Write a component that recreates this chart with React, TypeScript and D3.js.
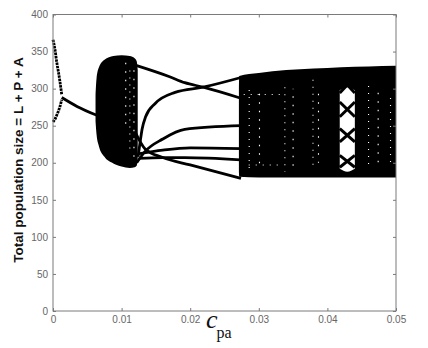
import { useEffect, useRef } from 'react';
import * as d3 from 'd3';

// axis ticks
const xTickValues = [0, 0.01, 0.02, 0.03, 0.04, 0.05];
const xTickLabels = ['0', '0.01', '0.02', '0.03', '0.04', '0.05'];
const yTickValues = [0, 50, 100, 150, 200, 250, 300, 350, 400];

// period-2 branches near cpa = 0
const twoCycleCpa = [0, 0.0003, 0.00054, 0.0008, 0.00102, 0.00127];
const twoCycleUpper = [366, 352, 336, 322, 309, 292];
const twoCycleLower = [255, 259, 264, 270, 276, 285];

// fixed point after the merge
const fixedCpa = [0.00127, 0.0035, 0.0064];
const fixedSize = [288, 276, 264];

// first chaotic band
const band1Cpa = [0.0062, 0.00635, 0.0067, 0.0075, 0.0088, 0.01, 0.0112, 0.0119, 0.0122, 0.01235];
const band1Top = [290, 314, 329, 339, 344, 345, 344, 341, 337, 325];
const band1Bottom = [256, 238, 222, 208, 199, 195, 193, 194, 196, 206];

// periodic branches between the bands
const branchACpa = [0.0122, 0.017, 0.0192, 0.0219, 0.0274];
const branchASize = [331, 316, 308, 302, 287];
const branchBCpa = [0.0124, 0.0127, 0.013, 0.0135, 0.0149, 0.0178, 0.0219, 0.0274];
const branchBSize = [208, 228, 246, 262, 280, 295, 302, 315];
const branchCCpa = [0.012, 0.0134, 0.016, 0.02, 0.0274];
const branchCSize = [241, 219, 207, 197, 179];
const branchDCpa = [0.0122, 0.0134, 0.016, 0.0192, 0.0274];
const branchDSize = [200, 215, 232, 245, 250];
const branchECpa = [0.0124, 0.016, 0.02, 0.0274];
const branchESize = [212, 217, 220, 219];
const branchFCpa = [0.0125, 0.016, 0.0192, 0.0274];
const branchFSize = [206, 207, 207, 204];

// second chaotic band
const band2Cpa = [0.0271, 0.02715, 0.03, 0.034, 0.038, 0.042, 0.046, 0.05];
const band2Top = [300, 317, 321, 325, 327, 329, 330, 331];
const band2Bottom = [188, 181, 180, 180, 180, 180, 180, 180];

// periodic window inside the second band
const windowCpa = [0.0418, 0.0429, 0.044];
const windowTop = [298, 302, 298];
const windowBottom = [192, 188, 192];
const windowLineFrom = [316, 294, 282, 262, 246, 228, 210, 194];
const windowLineTo = [294, 316, 262, 282, 228, 246, 194, 210];

// white speckle streaks inside the bands
const speckleCpa = [0.0106, 0.0112, 0.0118, 0.0286, 0.0301, 0.0338, 0.035, 0.0379, 0.0387, 0.046, 0.0474, 0.0492];
const speckleTop = [335, 330, 328, 305, 300, 310, 300, 312, 295, 305, 300, 290];
const speckleBottom = [250, 215, 205, 190, 195, 188, 190, 190, 200, 192, 195, 195];
const speckleRowSize = [292, 197];
const speckleRowCpa = [0.0278, 0.0332];

export default function App() {
  const svgRef = useRef<SVGSVGElement>(null);

  useEffect(() => {
    const svg = d3.select(svgRef.current);
    svg.selectAll('*').remove();

    const xScale = d3.scaleLinear().domain([0, 0.05]).range([53, 396]);
    const yScale = d3.scaleLinear().domain([0, 400]).range([311, 14.5]);

    const lineOf = (cpa: number[], size: number[]) =>
      d3
        .line<number>()
        .x((_, i) => xScale(cpa[i]))
        .y((d) => yScale(d))
        .curve(d3.curveMonotoneX)(size);

    const areaOf = (cpa: number[], top: number[], bottom: number[]) =>
      d3
        .area<number>()
        .x((_, i) => xScale(cpa[i]))
        .y0((_, i) => yScale(bottom[i]))
        .y1((d) => yScale(d))
        .curve(d3.curveMonotoneX)(top);

    const plot = svg.append('g');

    // bands
    plot.append('path').attr('d', areaOf(band1Cpa, band1Top, band1Bottom)).attr('fill', '#000');
    plot.append('path').attr('d', areaOf(band2Cpa, band2Top, band2Bottom)).attr('fill', '#000');

    // speckles
    speckleCpa.forEach((c, i) => {
      plot
        .append('line')
        .attr('x1', xScale(c))
        .attr('x2', xScale(c))
        .attr('y1', yScale(speckleTop[i]))
        .attr('y2', yScale(speckleBottom[i]))
        .attr('stroke', '#fff')
        .attr('stroke-width', 1.1)
        .attr('stroke-dasharray', i % 2 ? '1 6' : '1.5 7')
        .attr('stroke-dashoffset', i * 3);
    });
    speckleRowSize.forEach((s, i) => {
      plot
        .append('line')
        .attr('x1', xScale(speckleRowCpa[0]))
        .attr('x2', xScale(speckleRowCpa[1]))
        .attr('y1', yScale(s))
        .attr('y2', yScale(s))
        .attr('stroke', '#fff')
        .attr('stroke-width', 1.1)
        .attr('stroke-dasharray', '1 6')
        .attr('stroke-dashoffset', i * 2);
    });

    // periodic window
    plot.append('path').attr('d', areaOf(windowCpa, windowTop, windowBottom)).attr('fill', '#fff');
    windowLineFrom.forEach((from, i) => {
      plot
        .append('path')
        .attr('d', lineOf([windowCpa[0], windowCpa[2]], [from, windowLineTo[i]]))
        .attr('fill', 'none')
        .attr('stroke', '#000')
        .attr('stroke-width', 3);
    });

    // branches
    const branches: [number[], number[], string | null][] = [
      [twoCycleCpa, twoCycleUpper, '2.5 0.8'],
      [twoCycleCpa, twoCycleLower, '2.5 0.8'],
      [fixedCpa, fixedSize, null],
      [branchACpa, branchASize, null],
      [branchBCpa, branchBSize, null],
      [branchCCpa, branchCSize, null],
      [branchDCpa, branchDSize, null],
      [branchECpa, branchESize, null],
      [branchFCpa, branchFSize, null]
    ];
    branches.forEach(([cpa, size, dash]) => {
      plot
        .append('path')
        .attr('d', lineOf(cpa, size))
        .attr('fill', 'none')
        .attr('stroke', '#000')
        .attr('stroke-width', 2.8)
        .attr('stroke-dasharray', dash);
    });

    // frame and axes
    const axisColor = '#7a7a7a';
    svg
      .append('rect')
      .attr('x', 53)
      .attr('y', 14.5)
      .attr('width', 343)
      .attr('height', 296.5)
      .attr('fill', 'none')
      .attr('stroke', axisColor);

    const styleAxis = (g: d3.Selection<SVGGElement, unknown, null, undefined>) => {
      g.select('.domain').remove();
      g.selectAll('.tick line').attr('stroke', axisColor);
      g.selectAll('.tick text')
        .attr('fill', '#666')
        .attr('font-family', '"Liberation Sans", Arial, sans-serif')
        .attr('font-size', 10);
    };

    svg
      .append('g')
      .attr('transform', 'translate(0,311)')
      .call(
        d3
          .axisBottom(xScale)
          .tickValues(xTickValues)
          .tickSize(-3)
          .tickPadding(5)
          .tickFormat((_, i) => xTickLabels[i])
      )
      .call(styleAxis);
    svg
      .append('g')
      .attr('transform', 'translate(0,14.5)')
      .call(d3.axisTop(xScale).tickValues(xTickValues).tickSize(-3).tickFormat(() => ''))
      .call(styleAxis);
    svg
      .append('g')
      .attr('transform', 'translate(53,0)')
      .call(d3.axisLeft(yScale).tickValues(yTickValues).tickSize(-3).tickPadding(5))
      .call(styleAxis);
    svg
      .append('g')
      .attr('transform', 'translate(396,0)')
      .call(d3.axisRight(yScale).tickValues(yTickValues).tickSize(-3).tickFormat(() => ''))
      .call(styleAxis);

    // axis titles
    svg
      .append('text')
      .attr('transform', 'translate(23,160) rotate(-90)')
      .attr('text-anchor', 'middle')
      .attr('font-family', '"Liberation Sans", Arial, sans-serif')
      .attr('font-size', 13.5)
      .attr('font-weight', 'bold')
      .attr('fill', '#111')
      .text('Total population size = L + P + A');

    const xTitle = svg
      .append('text')
      .attr('x', 206)
      .attr('y', 328)
      .attr('font-family', '"Liberation Serif", "Times New Roman", serif')
      .attr('fill', '#111');
    xTitle.append('tspan').attr('font-style', 'italic').attr('font-size', 26).text('c');
    xTitle.append('tspan').attr('font-size', 16).attr('dy', 10).attr('dx', -1).text('pa');
  }, []);

  return (
    <div style={{ position: 'fixed', left: 0, top: 0, width: 428, height: 348, background: '#fff' }}>
      <svg ref={svgRef} width={428} height={348} />
    </div>
  );
}
